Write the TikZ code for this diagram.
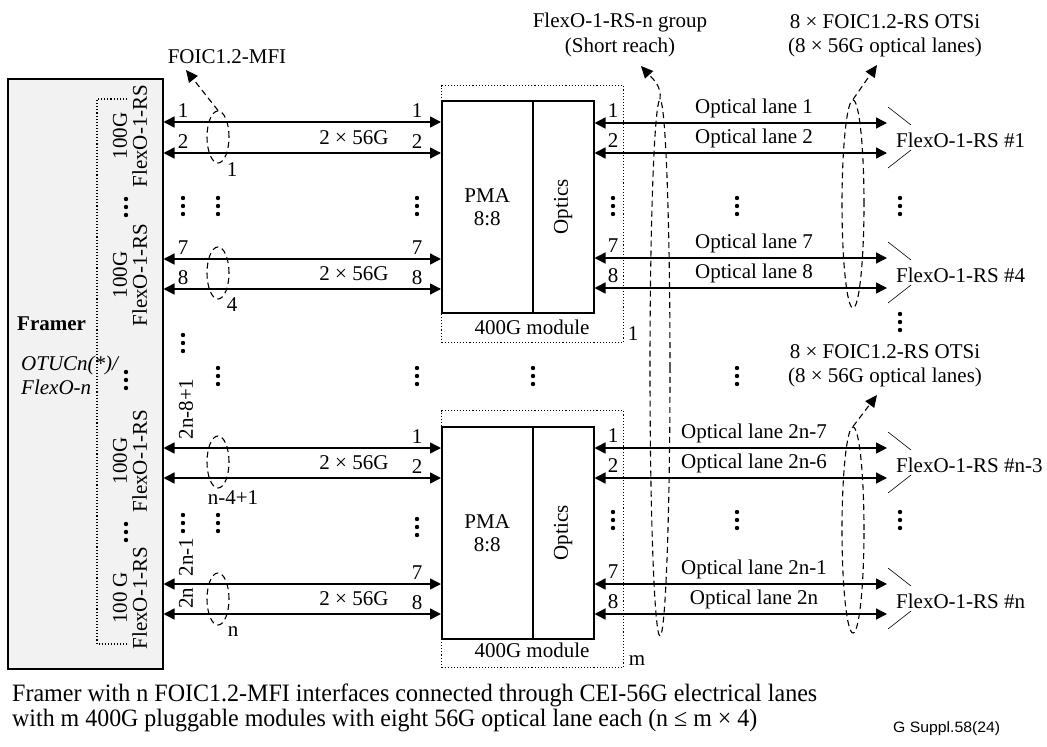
\documentclass[tikz,border=0pt]{standalone}
\usepackage{fontspec}
\setmainfont{Liberation Serif}
\newfontfamily\capsans{Liberation Sans}
\usetikzlibrary{arrows.meta,calc,shapes.geometric}
\newcommand{\lf}{\fontsize{21}{20}\selectfont}
\begin{document}
\begin{tikzpicture}[x=1pt,y=-1pt,
  every node/.style={inner sep=0pt, font=\lf},
  lane/.style={line width=1.5pt, {Triangle[length=11pt,width=11pt]}-{Triangle[length=11pt,width=11pt]}},
  solidbox/.style={draw, line width=1.5pt, anchor=north west},
  modbox/.style={draw, dotted, line width=1.1pt, anchor=north west},
  grp/.style={draw, line width=1.1pt, dash pattern=on 6pt off 4pt},
  grpell/.style={grp, ellipse, minimum width=22pt},
  grparrow/.style={grp, -{Triangle[length=12pt,width=11pt]}},
  brk/.style={line width=0.6pt},
  vd/.pic={\fill (0,-8) circle (2.2pt) (0,0) circle (2.2pt) (0,8) circle (2.2pt);},
  num/.style={anchor=base},
]
\useasboundingbox (0,0) rectangle (1047,747);

% ---------- Framer ----------
\node[draw, fill=black!5, line width=1.5pt, minimum width=155pt, minimum height=590pt, anchor=north west] (framer) at (7,78) {};
\draw[dotted, line width=1.1pt] (127,99) -- (97,99) -- (97,644) -- (127,644);
\node[anchor=base west, font=\lf\bfseries] (framerlbl) at (17,330) {Framer};
\node[anchor=base west, font=\lf\itshape] (otuc) at (21,370) {OTUCn(*)/};
\node[anchor=base west, font=\lf\itshape] (flexon) at (21,394) {FlexO-n};
\node[rotate=90, align=center] (g1) at (130,136) {100G\\FlexO-1-RS};
\node[rotate=90, align=center] (g2) at (130,275) {100G\\FlexO-1-RS};
\node[rotate=90, align=center] (g3) at (130,461) {100G\\FlexO-1-RS};
\node[rotate=90, align=center] (g4) at (130,598) {100 G\\FlexO-1-RS};
\pic at (126,207) {vd};
\pic at (126,380) {vd};
\pic at (126,532) {vd};

% ---------- Modules ----------
\node[modbox, minimum width=182pt, minimum height=257pt] (mod1) at (441,85) {};
\node[solidbox, minimum width=91pt, minimum height=212pt, align=center, font=\fontsize{21}{23}\selectfont] (pma1) at (441,100) {PMA\\8:8};
\node[solidbox, minimum width=61pt, minimum height=212pt] (opt1) at (532,100) {};
\node[rotate=90] (opt1lbl) at (opt1.center) {Optics};
\node (mod1lbl) at (532,327) {400G module};
\node (mod1n) at (633,334) {1};

\node[modbox, minimum width=182pt, minimum height=257pt] (mod2) at (441,410) {};
\node[solidbox, minimum width=91pt, minimum height=212pt, align=center, font=\fontsize{21}{23}\selectfont] (pma2) at (441,426) {PMA\\8:8};
\node[solidbox, minimum width=61pt, minimum height=212pt] (opt2) at (532,426) {};
\node[rotate=90] (opt2lbl) at (opt2.center) {Optics};
\node (mod2lbl) at (532,650) {400G module};
\node (mod2n) at (637,661) {m};

% ---------- Electrical lanes ----------
\foreach \y in {122,153,259,289} \draw[lane] (framer.east |- 0,\y) -- (pma1.west |- 0,\y);
\foreach \y in {448,478,584,614} \draw[lane] (framer.east |- 0,\y) -- (pma2.west |- 0,\y);

\foreach \t/\y in {1/122,2/153,7/259,8/289} {
  \node[num] at (183,\y-5) {\t};
  \node[num] at (417,\y-5) {\t};
}
\foreach \t/\y in {1/448,2/478,7/584,8/614} \node[num] at (417,\y-5) {\t};
\foreach \y in {153,289,478,614} \node[num] at (354,\y-9) {2 × 56G};
\node[rotate=90] (l2n8) at (186,409) {2n-8+1};
\node[rotate=90] (l2n1) at (186,557) {2n-1};
\node[rotate=90] (l2n) at (186,598) {2n};

\node[grpell, minimum height=52pt] (e1) at (218,137) {};
\node[grpell, minimum height=52pt] (e4) at (218,273) {};
\node[grpell, minimum height=52pt] (en4) at (218,462) {};
\node[grpell, minimum height=52pt] (en) at (218,599) {};
\node (e1n) at (232,170) {1};
\node (e4n) at (232,305) {4};
\node (en4n) at (233,498) {n-4+1};
\node (enn) at (233,632) {n};
\node (mfi) at (227,57) {FOIC1.2-MFI};
\coordinate (mfitip) at (186,70);
\draw[grparrow] (e1.north) -- (mfitip);

\pic at (183,206) {vd}; \pic at (218,206) {vd}; \pic at (417,206) {vd};
\pic at (183,343) {vd}; \pic at (218,376) {vd}; \pic at (417,376) {vd};
\pic at (183,523) {vd}; \pic at (218,523) {vd}; \pic at (417,527) {vd};
\pic at (533,376) {vd};

% ---------- Optical lanes ----------
\coordinate (rend) at (887,0);
\foreach \y in {123,153,258,288} \draw[lane] (opt1.east |- 0,\y) -- (rend |- 0,\y);
\foreach \y in {448,478,584,614} \draw[lane] (opt2.east |- 0,\y) -- (rend |- 0,\y);
\foreach \t/\y in {1/123,2/153,7/258,8/288,1/448,2/478,7/584,8/614} \node[num] at (613,\y-6) {\t};
\foreach \t/\y in {1/123,2/153,7/258,8/288,2n-7/448,2n-6/478,2n-1/584,2n/614}
  \node[num] at (754,\y-10) {Optical lane \t};

\pic at (613,206) {vd}; \pic at (737,206) {vd}; \pic at (900,206) {vd};
\pic at (737,376) {vd}; \pic at (900,322) {vd};
\pic at (613,520) {vd}; \pic at (737,520) {vd}; \pic at (900,520) {vd};

\foreach \t/\ya/\yb in {1/123/153,4/258/288,n-3/448/478,n/584/614} {
  \draw[brk] (888,\ya-16) -- (911,\ya+2);
  \draw[brk] (888,\yb+15) -- (911,\yb-3);
  \node[anchor=base west] at (896,{(\ya+\yb)/2+9}) {FlexO-1-RS \#\t};
}

% group ellipses
\node[grp, ellipse, minimum width=20pt, minimum height=536pt] (sr) at (660,368) {};
\coordinate (srtip) at (641,66);
\draw[grparrow] (sr.north) .. controls (662,86) and (652,78) .. (srtip);
\node (srl1) at (620,22) {FlexO-1-RS-n group};
\node (srl2) at (620,47) {(Short reach)};

\node[grpell, minimum height=208pt] (ot1) at (853,204) {};
\coordinate (ot1tip) at (877,65);
\draw[grparrow] (ot1.north) -- (ot1tip);
\node (ot1l1) at (885,22) {8 × FOIC1.2-RS OTSi};
\node (ot1l2) at (885,47) {(8 × 56G optical lanes)};

\node[grpell, minimum height=206pt] (ot2) at (853,530) {};
\coordinate (ot2tip) at (877,395);
\draw[grparrow] (ot2.north) -- (ot2tip);
\node (ot2l1) at (885,352) {8 × FOIC1.2-RS OTSi};
\node (ot2l2) at (885,377) {(8 × 56G optical lanes)};

% ---------- Caption ----------
\node[anchor=base west, font=\fontsize{25}{25}\selectfont] (cap1) at (12,701) {\resizebox{805pt}{\height}{Framer with n FOIC1.2-MFI interfaces connected through CEI-56G electrical lanes}};
\node[anchor=base west, font=\fontsize{25}{25}\selectfont] (cap2) at (12,726) {\resizebox{745pt}{\height}{with m 400G pluggable modules with eight 56G optical lane each (n ≤ m × 4)}};
\node[anchor=base west, font=\capsans\fontsize{15}{15}\selectfont] (ref) at (893,732) {\resizebox{107pt}{\height}{G Suppl.58(24)}};
\end{tikzpicture}
\end{document}
